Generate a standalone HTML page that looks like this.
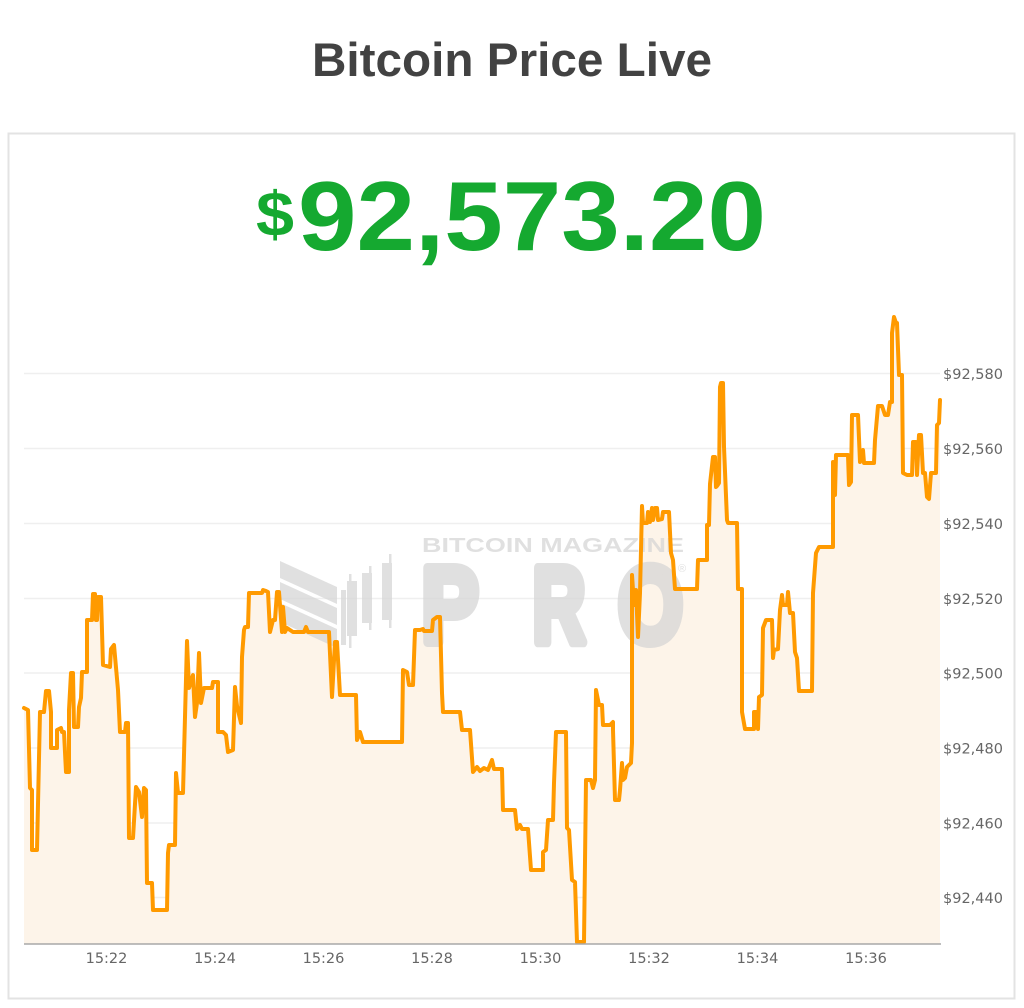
<!DOCTYPE html>
<html>
<head>
<meta charset="utf-8">
<style>
  html, body { margin: 0; padding: 0; background: #ffffff; }
  svg { display: block; }
</style>
</head>
<body>
<svg width="1024" height="1008" viewBox="0 0 1024 1008" xmlns="http://www.w3.org/2000/svg">
  <rect x="0" y="0" width="1024" height="1008" fill="#ffffff"/>

  <!-- Title -->
  <text x="512" y="76" text-anchor="middle" font-family="'Liberation Sans', Arial, sans-serif" font-weight="bold" font-size="47" fill="#424242" textLength="400" lengthAdjust="spacingAndGlyphs">Bitcoin Price Live</text>

  <!-- Card -->
  <rect x="8.5" y="133.5" width="1006" height="865" fill="#ffffff" stroke="#e3e3e3" stroke-width="2"/>

  <!-- Price -->
  <text x="256" y="236" font-family="'Liberation Sans', Arial, sans-serif" font-weight="bold" font-size="63" fill="#15a930" textLength="38" lengthAdjust="spacingAndGlyphs">$</text>
  <text x="298" y="250" font-family="'Liberation Sans', Arial, sans-serif" font-weight="bold" font-size="98" fill="#15a930" textLength="468" lengthAdjust="spacingAndGlyphs">92,573.20</text>

  <!-- Grid lines -->
  <g stroke="#efefef" stroke-width="1.5">
    <line x1="24" y1="373.5" x2="940" y2="373.5"/>
    <line x1="24" y1="448.5" x2="940" y2="448.5"/>
    <line x1="24" y1="523.5" x2="940" y2="523.5"/>
    <line x1="24" y1="598.5" x2="940" y2="598.5"/>
    <line x1="24" y1="673" x2="940" y2="673"/>
    <line x1="24" y1="748" x2="940" y2="748"/>
    <line x1="24" y1="823" x2="940" y2="823"/>
    <line x1="24" y1="897.5" x2="940" y2="897.5"/>
  </g>

  <!-- Area fill -->
  <polygon fill="#fdf4e9" points="24,944 24,708 28,710 30,788 32,790 32,850 37,850 40,712 44,712 46,691 49,691 51,712 51,748 57,748 57,730 61,728 62,732 64,732 66,772 69,772 69,710 71,673 73,673 74,727 78,727 79,707 81,698 82,672 87,672 87,620 92,620 93,594 95,594 96,620 97,620 98,597 101,597 103,665 110,667 111,649 114,645 118,690 120,732 125,732 126,723 128,723 129,838 133,838 136,787 139,792 142,817 144,788 146,790 147,883 152,883 153,910 167,910 168,853 169,845 175,845 176,773 178,793 183,793 187,641 189,688 193,675 195,717 197,703 199,653 201,703 204,688 212,688 213,682 218,682 218,732 223,732 226,735 228,752 233,750 235,687 237,706 241,723 242,657 244,630 245,627 248,627 249,593 262,593 263,590 266,591 268,592 270,632 273,620 275,620 277,592 279,592 282,632 283,607 285,632 287,628 293,632 304,632 306,627 308,632 329,632 332,697 335,642 337,642 340,695 356,695 357,740 360,732 363,742 402,742 403,670 407,672 409,685 413,685 415,630 420,630 423,629 424,631 432,631 433,620 437,617 440,617 442,693 443,712 460,712 462,730 470,730 473,772 477,767 480,771 484,768 488,770 492,760 494,769 502,769 503,810 515,810 517,829 520,825 522,829 528,829 531,870 543,870 543,852 546,850 548,820 553,820 554,783 556,732 566,732 567,828 569,830 572,880 575,882 577,942 584,942 586,780 591,780 593,788 595,780 596,690 599,705 602,705 603,725 610,725 613,722 613,730 615,800 619,800 620,790 622,763 623,780 625,778 627,767 631,763 632,743 632,575 634,605 636,590 638,637 640,593 642,506 643,523 647,523 648,512 650,522 652,508 653,520 655,508 657,508 658,520 662,519 663,512 669,512 671,553 673,560 675,589 697,589 698,560 707,560 707,525 709,525 710,484 713,457 715,457 716,487 717,486 719,483 720,387 721,383 723,383 724,447 727,520 728,523 737,523 738,589 742,589 742,712 745,729 754,729 754,712 757,712 758,729 759,697 762,695 763,628 766,620 772,620 773,658 774,650 778,649 780,610 782,595 783,605 787,605 788,592 790,613 793,613 795,652 797,658 799,691 812,691 813,593 816,553 819,547 833,547 833,462 835,495 836,455 848,455 849,485 851,482 852,415 858,415 860,462 863,450 864,463 874,463 875,440 878,406 882,406 885,415 888,415 890,402 892,402 892,333 894,317 896,323 897,323 899,375 902,375 903,473 907,475 912,475 913,442 916,442 917,475 919,435 921,435 923,473 925,473 927,497 929,499 931,473 936,473 937,425 939,423 940,400 940,944"/>

  <!-- Watermark -->
  <g fill="#d4d4d4" stroke="none" opacity="0.7">
    <polygon points="280,561 337,587 337,604 280,578"/>
    <polygon points="280,582 337,608 337,625 280,599"/>
    <polygon points="280,603 337,629 337,648 280,622"/>
    <rect x="341" y="590" width="5" height="55"/>
    <rect x="347" y="581" width="10" height="55"/>
    <rect x="349" y="574" width="2.5" height="74"/>
    <rect x="362" y="573" width="10" height="50"/>
    <rect x="369" y="566" width="2.5" height="64"/>
    <rect x="382" y="563" width="10" height="57"/>
    <rect x="389" y="554" width="2.5" height="74"/>
    <text x="422" y="552" font-family="'Liberation Sans', Arial, sans-serif" font-weight="bold" font-size="20" textLength="262" lengthAdjust="spacingAndGlyphs">BITCOIN MAGAZINE</text>
  </g>
  <g fill="#d4d4d4" stroke="#d4d4d4" stroke-width="10" stroke-linejoin="round" opacity="0.7" font-family="'Liberation Sans', Arial, sans-serif" font-weight="bold" font-size="108">
    <text x="421.5" y="642" textLength="57" lengthAdjust="spacingAndGlyphs">P</text>
    <text x="532.5" y="642" textLength="53" lengthAdjust="spacingAndGlyphs">R</text>
    <text x="618" y="642" textLength="65" lengthAdjust="spacingAndGlyphs">O</text>
  </g>
  <text x="678" y="572" font-family="'Liberation Sans', Arial, sans-serif" font-size="11" fill="#d4d4d4" opacity="0.7">®</text>

  <!-- Line -->
  <polyline fill="none" stroke="#ff9a00" stroke-width="4" stroke-linejoin="round" stroke-linecap="round" points="24,708 28,710 30,788 32,790 32,850 37,850 40,712 44,712 46,691 49,691 51,712 51,748 57,748 57,730 61,728 62,732 64,732 66,772 69,772 69,710 71,673 73,673 74,727 78,727 79,707 81,698 82,672 87,672 87,620 92,620 93,594 95,594 96,620 97,620 98,597 101,597 103,665 110,667 111,649 114,645 118,690 120,732 125,732 126,723 128,723 129,838 133,838 136,787 139,792 142,817 144,788 146,790 147,883 152,883 153,910 167,910 168,853 169,845 175,845 176,773 178,793 183,793 187,641 189,688 193,675 195,717 197,703 199,653 201,703 204,688 212,688 213,682 218,682 218,732 223,732 226,735 228,752 233,750 235,687 237,706 241,723 242,657 244,630 245,627 248,627 249,593 262,593 263,590 266,591 268,592 270,632 273,620 275,620 277,592 279,592 282,632 283,607 285,632 287,628 293,632 304,632 306,627 308,632 329,632 332,697 335,642 337,642 340,695 356,695 357,740 360,732 363,742 402,742 403,670 407,672 409,685 413,685 415,630 420,630 423,629 424,631 432,631 433,620 437,617 440,617 442,693 443,712 460,712 462,730 470,730 473,772 477,767 480,771 484,768 488,770 492,760 494,769 502,769 503,810 515,810 517,829 520,825 522,829 528,829 531,870 543,870 543,852 546,850 548,820 553,820 554,783 556,732 566,732 567,828 569,830 572,880 575,882 577,942 584,942 586,780 591,780 593,788 595,780 596,690 599,705 602,705 603,725 610,725 613,722 613,730 615,800 619,800 620,790 622,763 623,780 625,778 627,767 631,763 632,743 632,575 634,605 636,590 638,637 640,593 642,506 643,523 647,523 648,512 650,522 652,508 653,520 655,508 657,508 658,520 662,519 663,512 669,512 671,553 673,560 675,589 697,589 698,560 707,560 707,525 709,525 710,484 713,457 715,457 716,487 717,486 719,483 720,387 721,383 723,383 724,447 727,520 728,523 737,523 738,589 742,589 742,712 745,729 754,729 754,712 757,712 758,729 759,697 762,695 763,628 766,620 772,620 773,658 774,650 778,649 780,610 782,595 783,605 787,605 788,592 790,613 793,613 795,652 797,658 799,691 812,691 813,593 816,553 819,547 833,547 833,462 835,495 836,455 848,455 849,485 851,482 852,415 858,415 860,462 863,450 864,463 874,463 875,440 878,406 882,406 885,415 888,415 890,402 892,402 892,333 894,317 896,323 897,323 899,375 902,375 903,473 907,475 912,475 913,442 916,442 917,475 919,435 921,435 923,473 925,473 927,497 929,499 931,473 936,473 937,425 939,423 940,400"/>

  <!-- X axis -->
  <line x1="24" y1="944" x2="941" y2="944" stroke="#a8a8a8" stroke-width="1.5"/>
  <g font-family="'DejaVu Sans', Verdana, sans-serif" font-size="14.5" fill="#666666" text-anchor="middle">
    <text x="106.5" y="963">15:22</text>
    <text x="215" y="963">15:24</text>
    <text x="323.5" y="963">15:26</text>
    <text x="432" y="963">15:28</text>
    <text x="540.5" y="963">15:30</text>
    <text x="649" y="963">15:32</text>
    <text x="757.5" y="963">15:34</text>
    <text x="866" y="963">15:36</text>
  </g>

  <!-- Y axis labels -->
  <g font-family="'DejaVu Sans', Verdana, sans-serif" font-size="14.5" fill="#666666">
    <text x="943" y="379">$92,580</text>
    <text x="943" y="454">$92,560</text>
    <text x="943" y="529">$92,540</text>
    <text x="943" y="604">$92,520</text>
    <text x="943" y="678.5">$92,500</text>
    <text x="943" y="753.5">$92,480</text>
    <text x="943" y="828.5">$92,460</text>
    <text x="943" y="903">$92,440</text>
  </g>
</svg>
</body>
</html>
